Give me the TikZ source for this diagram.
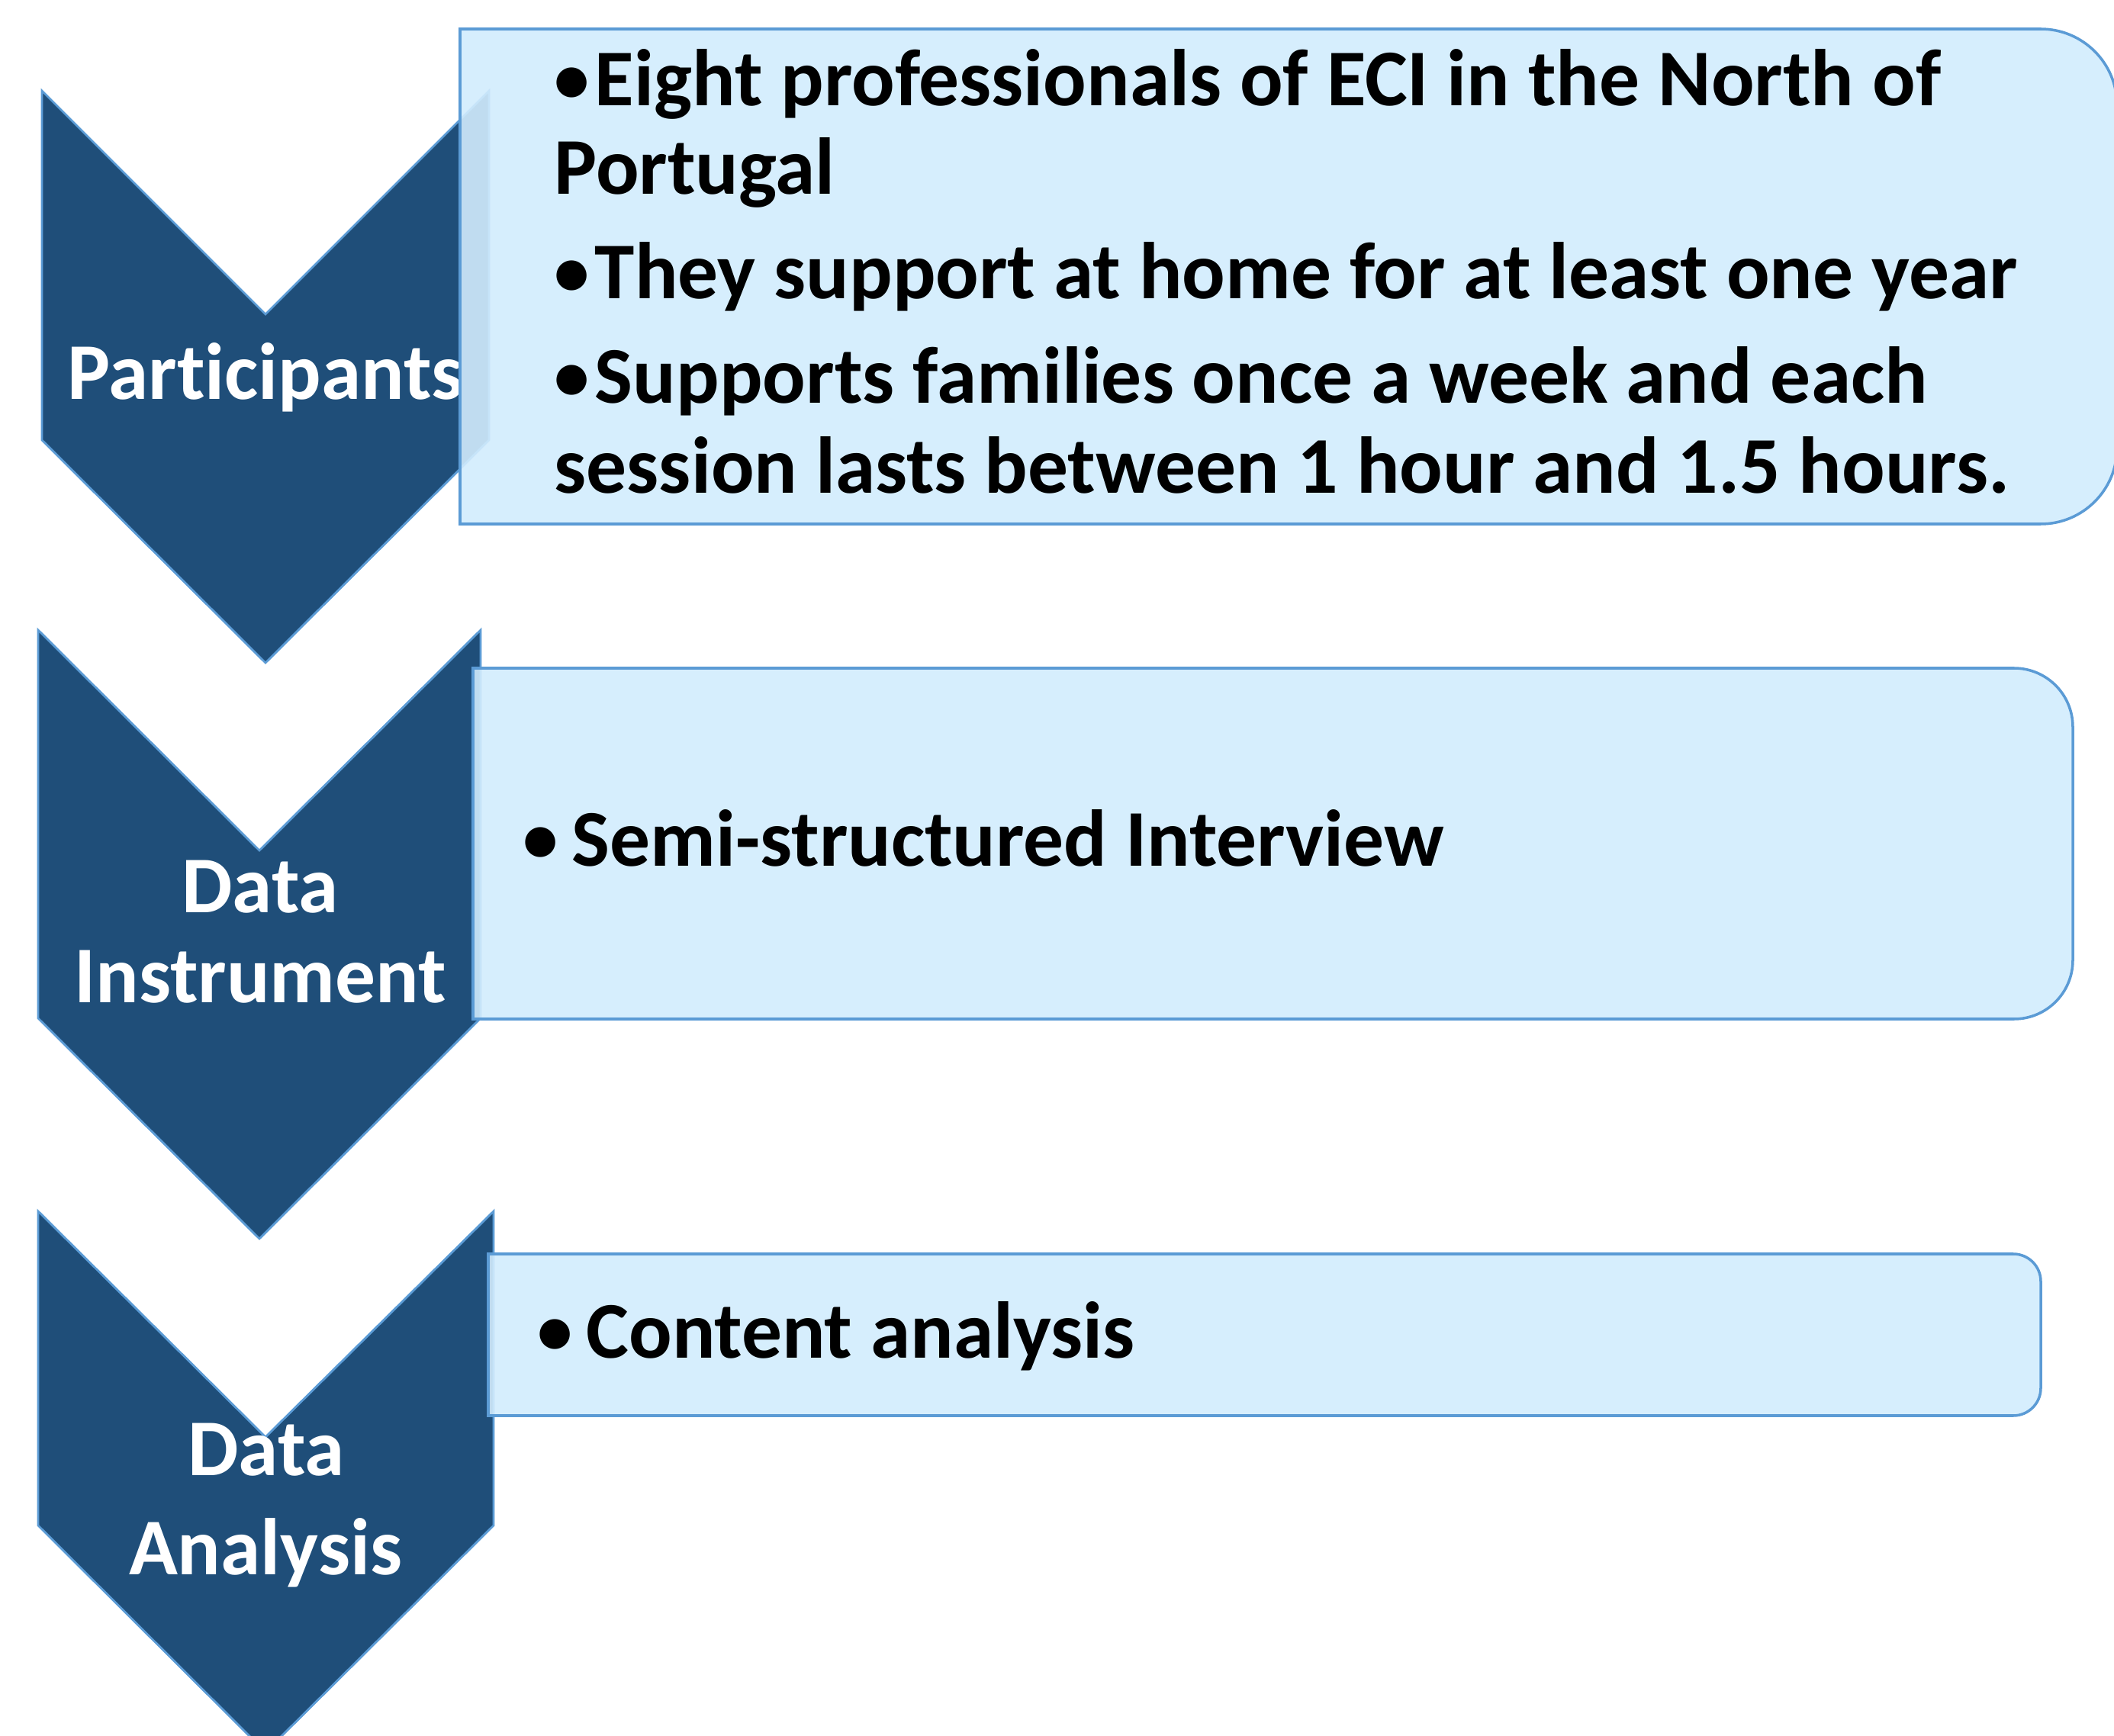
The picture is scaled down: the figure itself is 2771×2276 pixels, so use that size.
\documentclass[tikz,border=0pt]{standalone}
\usepackage{fontspec}
\setmainfont{Carlito}[Ligatures=NoCommon]
\usepackage{graphicx}
\usepackage{tikz}

\definecolor{chevblue}{HTML}{1F4E79}
\definecolor{lineblue}{HTML}{5B9BD5}
\definecolor{paleblue}{HTML}{D2ECFD}

% slightly smaller bullet than the font's own, kept at mid height
\newcommand{\bulletmark}{\raisebox{1.2pt}{\scalebox{0.88}{•}}\hspace{2pt}}

\begin{document}
\begin{tikzpicture}[x=0.01cm, y=-0.01cm]
  \tikzstyle{chev} = [fill=chevblue, draw=lineblue, line width=0.8pt]
  \tikzstyle{panel} = [fill=paleblue, fill opacity=0.9, draw=lineblue, line width=1pt]
  \tikzstyle{lbl} = [text=white, font=\bfseries\fontsize{30}{36}\selectfont, inner sep=0pt, anchor=base]
  \tikzstyle{item} = [text=black, font=\bfseries\fontsize{30}{36}\selectfont, inner sep=0pt, anchor=base west]

  \useasboundingbox (0,0) rectangle (2771,2276);

  % participants
  \draw[chev] (55,119) -- (348,412) -- (641,119) -- (641,577) -- (348,869) -- (55,577) -- cycle;
  \node[lbl] (part) at (348,524) {Participants};
  \draw[panel] (1600,38) [rounded corners=1cm] -- (2775,38) -- (2775,687) -- (1600,687)
    [sharp corners] -- (603,687) -- (603,38) -- cycle;
  \node[item] (eight) at (726,139) {\bulletmark Eight professionals of ECI in the North of};
  \node[item] (portugal) at (726,255) {Portugal};
  \node[item] (home) at (726,392) {\bulletmark They support at home for at least one year};
  \node[item] (weekly) at (726,529) {\bulletmark Supports families once a week and each};
  \node[item] (session) at (726,647) {session lasts between 1 hour and 1.5 hours.};

  % instrument
  \draw[chev] (50,826) -- (340,1115) -- (630,826) -- (630,1335) -- (340,1624) -- (50,1335) -- cycle;
  \node[lbl] (data1) at (341,1196) {Data};
  \node[lbl] (instr) at (341,1314) {Instrument};
  \draw[panel] (1600,876) [rounded corners=0.77cm] -- (2717,876) -- (2717,1336) -- (1600,1336)
    [sharp corners] -- (620,1336) -- (620,876) -- cycle;
  \node[item] (semi) at (685,1135) {\bulletmark\hspace{3pt}Semi-structured Interview};

  % analysis
  \draw[chev] (50,1588) -- (348,1884) -- (647,1588) -- (647,2000) -- (348,2297) -- (50,2000) -- cycle;
  \node[lbl] (data2) at (349,1934) {Data};
  \node[lbl] (anal) at (348,2064) {Analysis};
  \draw[panel] (1600,1644) [rounded corners=0.36cm] -- (2675,1644) -- (2675,1856) -- (1600,1856)
    [sharp corners] -- (640,1856) -- (640,1644) -- cycle;
  \node[item] (content) at (704,1780) {\bulletmark\hspace{3pt}Content analysis};

\end{tikzpicture}
\end{document}
